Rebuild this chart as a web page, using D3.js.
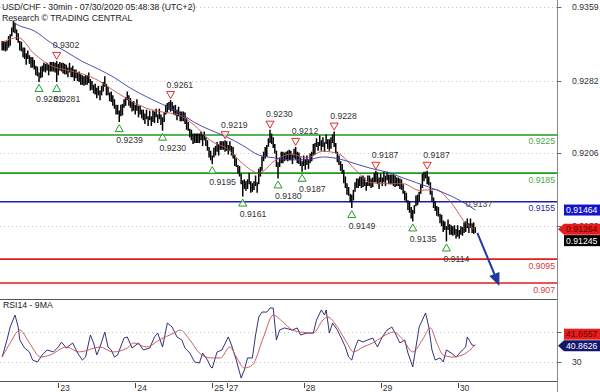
<!DOCTYPE html>
<html><head><meta charset="utf-8">
<script src="https://cdn.jsdelivr.net/npm/d3@7"></script>
<style>body{margin:0;background:#fff}svg{display:block}text{font-family:"Liberation Sans",Arial,sans-serif;font-size:8.7px}</style>
</head><body><svg id="c" width="600" height="392"></svg>
<script>
// ---------------- DATA ----------------
// 30-min bars, values in pips (price * 10000)
const highPips = [
9323,9323,9322,9323,9328,9330,9337,9344,9342,9335,
9331,9323,9322,9316,9316,9310,9313,9308,9306,9306,
9303,9297,9296,9290,9296,9297,9300,9299,9300,9298,
9301,9301,9301,9300,9302,9299,9301,9300,9300,9299,
9298,9295,9300,9295,9297,9293,9293,9290,9291,9288,
9287,9286,9287,9287,9290,9283,9281,9277,9278,9274,
9276,9271,9276,9280,9286,9278,9275,9269,9270,9266,
9262,9256,9256,9250,9256,9257,9262,9264,9270,9266,
9263,9259,9260,9256,9262,9255,9255,9251,9251,9247,
9251,9244,9250,9244,9250,9249,9252,9246,9252,9246,
9243,9248,9256,9258,9259,9261,9259,9255,9256,9251,
9254,9249,9249,9249,9248,9242,9238,9231,9230,9226,
9226,9226,9226,9226,9228,9225,9228,9222,9219,9212,
9208,9203,9211,9213,9217,9215,9218,9218,9218,9219,
9218,9214,9218,9213,9212,9204,9200,9193,9192,9184,
9177,9178,9176,9178,9185,9176,9174,9176,9182,9175,
9189,9191,9202,9207,9212,9214,9221,9230,9226,9222,
9215,9208,9196,9201,9207,9207,9206,9207,9208,9209,
9208,9204,9210,9212,9207,9206,9201,9197,9203,9199,
9203,9199,9205,9207,9215,9216,9221,9217,9224,9219,
9222,9217,9225,9220,9220,9222,9225,9228,9216,9207,
9203,9197,9194,9188,9181,9174,9170,9163,9162,9167,
9175,9179,9179,9181,9181,9182,9180,9175,9182,9182,
9179,9180,9185,9187,9185,9180,9184,9180,9186,9182,
9186,9183,9183,9183,9183,9182,9180,9180,9179,9178,
9173,9166,9164,9156,9155,9149,9146,9151,9161,9162,
9165,9173,9184,9186,9186,9187,9181,9175,9166,9159,
9155,9150,9149,9142,9141,9135,9134,9129,9136,9131,
9130,9129,9130,9126,9130,9125,9129,9128,9133,9134,
9137,9132,9137,9132,9133,9128];
const lowPips = [
9314,9314,9313,9314,9317,9319,9329,9333,9332,9325,
9322,9314,9313,9307,9305,9299,9305,9300,9296,9296,
9294,9288,9287,9281,9285,9286,9292,9291,9293,9288,
9292,9292,9292,9291,9281,9288,9293,9292,9290,9289,
9289,9286,9291,9286,9286,9282,9285,9282,9281,9278,
9278,9277,9278,9278,9280,9272,9273,9269,9268,9264,
9267,9262,9267,9271,9276,9267,9267,9261,9260,9256,
9253,9247,9247,9239,9245,9246,9254,9256,9262,9256,
9254,9250,9251,9247,9251,9244,9247,9243,9241,9237,
9242,9235,9241,9235,9239,9238,9244,9238,9242,9236,
9230,9239,9247,9249,9252,9250,9251,9247,9246,9241,
9245,9240,9240,9240,9237,9231,9230,9223,9220,9216,
9217,9217,9217,9217,9220,9214,9220,9214,9209,9202,
9199,9195,9202,9204,9208,9204,9210,9210,9210,9208,
9209,9205,9209,9204,9201,9193,9192,9185,9182,9174,
9161,9169,9167,9169,9174,9165,9166,9168,9172,9165,
9174,9182,9188,9198,9201,9203,9213,9217,9216,9212,
9206,9192,9180,9192,9196,9196,9198,9199,9198,9199,
9199,9195,9201,9200,9196,9195,9193,9187,9193,9189,
9194,9190,9196,9198,9204,9205,9213,9209,9214,9209,
9213,9208,9216,9211,9209,9211,9217,9213,9206,9197,
9194,9188,9185,9175,9170,9163,9162,9155,9149,9157,
9166,9170,9170,9172,9170,9171,9172,9167,9172,9172,
9170,9171,9176,9176,9174,9169,9176,9172,9176,9172,
9178,9174,9174,9174,9172,9171,9172,9172,9169,9168,
9164,9157,9155,9147,9144,9138,9135,9143,9151,9152,
9156,9164,9170,9177,9180,9174,9173,9163,9156,9149,
9146,9141,9140,9133,9130,9124,9126,9114,9126,9121,
9121,9120,9121,9117,9119,9117,9121,9120,9123,9124,
9128,9123,9128,9123,9122,9123];

const dayLabels = ["23","24","25","27","28","29","30"];
const dayBars   = [35, 83, 131, 140, 188, 236, 284];

const priceTicks = [0.9359, 0.9282, 0.9206, 0.9130];

const maRedBars = [0,10,20,30,40,50,60,70,80,90,100,110,120,130,140,150,160,170,180,190,200,210,220,230,240,250,260,270,280,290,295];
const maRed = [0.9322,0.9327,0.9310,0.9298,0.9293,0.9289,0.9282,0.9271,0.9261,0.9253,0.9249,0.9246,0.9235,0.9219,0.9211,0.9195,0.9185,0.9198,0.9205,0.9201,0.9208,0.9205,0.9189,0.9175,0.9174,0.9174,0.9167,0.9168,0.9154,0.9131,0.91264];
const maBlueBars = [7,10,20,30,40,50,60,70,80,90,100,110,120,130,140,150,160,170,180,190,200,210,220,230,240,250,260,270,280,290,295];
const maBlue = [0.9343,0.9340,0.9334,0.9322,0.9312,0.9302,0.9294,0.9285,0.9274,0.9265,0.9257,0.9249,0.9238,0.9230,0.9223,0.9214,0.9204,0.9201,0.9199,0.9199,0.9202,0.9200,0.9195,0.9190,0.9186,0.9180,0.9174,0.9168,0.9161,0.9152,0.91464];

const levels      = [0.9225, 0.9185, 0.9155, 0.9095, 0.907];
const levelLabels = ["0.9225","0.9185","0.9155","0.9095","0.907"];
const levelRoles  = ["resistance","resistance","pivot","support","support"];

const peakBars = [34, 105, 139, 167, 183, 207, 233, 265];
const peakVals = [0.9302, 0.9261, 0.9219, 0.9230, 0.9212, 0.9228, 0.9187, 0.9187];
const troughBars = [23, 34, 73, 100, 131, 150, 172, 187, 218, 256, 277];
const troughVals = [0.9281, 0.9281, 0.9239, 0.9230, 0.9195, 0.9161, 0.9180, 0.9187, 0.9149, 0.9135, 0.9114];
const noteBars = [289];
const noteVals = [0.9137];

const lastBar = 295, lastPrice = 0.91245, lastRed = 0.91264, lastBlue = 0.91464;
const targetBar = 310, targetPrice = 0.907;

const rsiBars = [0,3,5,8,10,11,14,17,19,22,25,28,32,35,37,40,44,47,50,52,55,57,59,61,64,66,68,70,72,76,78,81,85,88,92,95,97,100,103,106,109,112,114,117,120,123,125,128,130,131,134,137,141,143,146,149,151,153,156,158,160,162,165,167,169,171,173,176,181,184,186,190,194,196,199,201,202,204,206,209,212,214,216,218,220,222,225,228,231,234,237,240,243,245,248,251,253,256,257,260,264,266,268,270,273,275,277,280,283,287,289,290,293,295];
const rsiVals = [33.3,44.7,53.3,61.3,53.3,44.7,39.3,36.7,31.3,30,34.7,38,36.7,40,43.3,39.3,42.7,36,31.3,33.3,48,42.7,34.7,40,50,40,38,33.3,34.7,46,46.7,39.3,42.7,38,39.3,46.7,49.3,40,56,53.3,46.7,44.7,39.3,36,30,29.3,36,31.3,26.7,26,36.7,38,46.7,41.3,31.3,19.3,24.7,32.7,32.7,48,60,63.3,63.3,66,66,44.7,51.3,52.7,51.3,52.7,48,49.3,49.3,58,64.7,61.3,64.7,49.3,56,51.3,44.7,40,33.3,31.3,39.3,44.7,43.3,44.7,46,40,46.7,51.3,53.3,49.3,42.7,44.7,36,26.7,33.3,53.3,62.7,53.3,38,31.3,32.7,30,38,36,33.3,38,40,46.7,41.3,40.8626];
const rsiMaBars = [0,5,11,17,24,30,40,48,61,69,78,82,90,98,107,111,117,123,130,136,142,146,151,156,163,169,175,181,186,194,200,203,209,215,219,225,231,237,244,250,256,262,267,271,275,281,287,293,295];
const rsiMaVals = [33.3,42.7,51.3,42.7,33.3,34.7,40,36.7,40,36.7,39.3,42.7,40,44.7,49.3,51.3,44.7,36,32.7,32.7,40,33.3,26,28,46.7,61.3,56.7,51.3,50,49.3,58,60,53.3,42.7,36.7,40,42.7,46.7,50,44.7,36.7,44.7,52.7,42.7,34.7,33.3,34.7,39.3,41.6557];
const rsiTicks = [50, 30];

const title1 = "USD/CHF - 30min - 07/30/2020 05:48:38 (UTC+2)";
const title2 = "Research \u00a9 TRADING CENTRAL";
const rsiTitle = "RSI14 - 9MA";

// ---------------- DRAW ----------------
const svg = d3.select("#c");
const axisX = 557.5;
const x = d3.scaleLinear().domain([0, 295]).range([2.16, 475.3]);
const y = d3.scaleLinear().domain([0.9359, 0.907]).range([7, 283]);
const yr = d3.scaleLinear().domain([50, 30]).range([332, 362]);
const pip = p => p / 10000;
const roleColor = {resistance: "#1e9a1e", pivot: "#1c1cae", support: "#e01c1c"};
const roleText  = {resistance: "#4aa84a", pivot: "#2a2a9a", support: "#d83a3a"};
const snap = v => Math.round(v) + 0.5;

// grid
svg.append("g").selectAll("line").data(priceTicks).join("line")
  .attr("x1", 0).attr("x2", axisX).attr("y1", d => snap(y(d))).attr("y2", d => snap(y(d)))
  .attr("stroke", "#c4c4c4").attr("stroke-dasharray", "1,3");
svg.append("g").selectAll("line").data(rsiTicks).join("line")
  .attr("x1", 0).attr("x2", axisX).attr("y1", d => snap(yr(d))).attr("y2", d => snap(yr(d)))
  .attr("stroke", "#c4c4c4").attr("stroke-dasharray", "1,3");

// levels
const lv = svg.append("g");
levels.forEach((v, i) => {
  lv.append("line").attr("x1", 0).attr("x2", axisX - 0.5)
    .attr("y1", y(v)).attr("y2", y(v))
    .attr("stroke", roleColor[levelRoles[i]]).attr("stroke-width", 1.6);
  lv.append("text").attr("x", 555).attr("y", y(v) + 9.5).attr("text-anchor", "end")
    .attr("fill", roleText[levelRoles[i]]).text(levelLabels[i]);
});

// bars
svg.append("g").selectAll("line").data(highPips.map((h, i) => i)).join("line")
  .attr("x1", i => x(i)).attr("x2", i => x(i))
  .attr("y1", i => y(pip(highPips[i])) - 0.5).attr("y2", i => y(pip(lowPips[i])) + 0.5)
  .attr("stroke", "#000").attr("stroke-width", 1.5);

// moving averages
const lineMA = d3.line().curve(d3.curveMonotoneX);
svg.append("path").attr("d", lineMA(maRedBars.map((b, i) => [x(b), y(maRed[i])])))
  .attr("fill", "none").attr("stroke", "#c0504d").attr("stroke-width", 0.9);
svg.append("path").attr("d", lineMA(maBlueBars.map((b, i) => [x(b), y(maBlue[i])])))
  .attr("fill", "none").attr("stroke", "#3a3aa8").attr("stroke-width", 0.9);

// peaks / troughs
const ann = svg.append("g");
peakBars.forEach((b, i) => {
  const cx = x(b), cy = y(peakVals[i]) - 6;
  ann.append("path").attr("d", `M${cx-4},${cy-3}L${cx+4},${cy-3}L${cx},${cy+4}Z`)
    .attr("fill", "#fff").attr("fill-opacity", 0.6).attr("stroke", "#d83030").attr("stroke-width", 1);
  ann.append("text").attr("x", cx - 4).attr("y", y(peakVals[i]) - 13).attr("fill", "#333")
    .text(peakVals[i].toFixed(4));
});
troughBars.forEach((b, i) => {
  const cx = x(b), cy = y(troughVals[i]) + 7;
  ann.append("path").attr("d", `M${cx-4},${cy+3}L${cx+4},${cy+3}L${cx},${cy-4}Z`)
    .attr("fill", "#fff").attr("fill-opacity", 0.6).attr("stroke", "#2a9a2a").attr("stroke-width", 1);
  ann.append("text").attr("x", cx - 3).attr("y", y(troughVals[i]) + 21).attr("fill", "#333")
    .text(troughVals[i].toFixed(4));
});
noteBars.forEach((b, i) => {
  ann.append("text").attr("x", x(b)).attr("y", y(noteVals[i]) - 12).attr("fill", "#444")
    .text(noteVals[i].toFixed(4));
});

// projection arrow
{
  const x1 = x(lastBar) + 2, y1 = y(lastPrice) + 2;
  const x2 = x(targetBar), y2 = y(targetPrice) + 3;
  const dx = x2 - x1, dy = y2 - y1, L = Math.hypot(dx, dy), ux = dx / L, uy = dy / L;
  const hl = 13, hw = 5.5;
  const bx = x2 - ux * hl, by = y2 - uy * hl;
  svg.append("line").attr("x1", x1).attr("y1", y1).attr("x2", bx).attr("y2", by)
    .attr("stroke", "#1f3b9c").attr("stroke-width", 2);
  svg.append("path").attr("d", `M${x2},${y2}L${bx - uy*hw},${by + ux*hw}L${bx + uy*hw},${by - ux*hw}Z`)
    .attr("fill", "#1f3b9c");
}

// RSI panel
svg.append("line").attr("x1", 0).attr("x2", axisX).attr("y1", 299.5).attr("y2", 299.5).attr("stroke", "#555");
svg.append("line").attr("x1", 0).attr("x2", axisX).attr("y1", 381.5).attr("y2", 381.5).attr("stroke", "#555");
svg.append("text").attr("x", 3).attr("y", 308).attr("fill", "#222").text(rsiTitle);
svg.append("path").attr("d", d3.line()(rsiBars.map((b, i) => [x(b), yr(rsiVals[i])])))
  .attr("fill", "none").attr("stroke", "#1c1c6a").attr("stroke-width", 0.9);
svg.append("path").attr("d", lineMA(rsiMaBars.map((b, i) => [x(b), yr(rsiMaVals[i])])))
  .attr("fill", "none").attr("stroke", "#c0504d").attr("stroke-width", 0.9);

// right axis
svg.append("line").attr("x1", axisX).attr("x2", axisX).attr("y1", 0).attr("y2", 392).attr("stroke", "#888");
const ra = svg.append("g");
priceTicks.forEach(v => {
  ra.append("line").attr("x1", axisX).attr("x2", axisX + 4).attr("y1", snap(y(v))).attr("y2", snap(y(v))).attr("stroke", "#666");
  ra.append("text").attr("x", 572).attr("y", y(v) + 3).attr("fill", "#333").text(v.toFixed(4));
});
rsiTicks.forEach(v => {
  ra.append("line").attr("x1", axisX).attr("x2", axisX + 4).attr("y1", snap(yr(v))).attr("y2", snap(yr(v))).attr("stroke", "#666");
  ra.append("text").attr("x", 572).attr("y", yr(v) + 3).attr("fill", "#333").text(String(v));
});

// value boxes
function box(yc, txt, fill, tcol, arrow) {
  const h = 5.5;
  if (arrow) ra.append("path").attr("d", `M558,${yc}L564,${yc-h}L600,${yc-h}L600,${yc+h}L564,${yc+h}Z`).attr("fill", fill);
  else ra.append("rect").attr("x", 564).attr("y", yc - h).attr("width", 36).attr("height", 2*h).attr("fill", fill);
  ra.append("text").attr("x", 566).attr("y", yc + 3.2).attr("fill", tcol).text(txt);
}
const yBlue = y(lastBlue), yRed = y(lastRed);
box(yBlue, lastBlue.toFixed(5), "#1414c8", "#fff", false);
box(yRed, lastRed.toFixed(5), "#e41e1e", "#6a0000", true);
box(Math.max(y(lastPrice), yRed + 11.5), lastPrice.toFixed(5), "#000", "#fff", false);
const rsiLast = rsiVals[rsiVals.length - 1], rsiMaLast = rsiMaVals[rsiMaVals.length - 1];
box(Math.min(yr(rsiMaLast), yr(rsiLast) - 11.5), rsiMaLast.toFixed(4), "#e41e1e", "#6a0000", false);
box(yr(rsiLast), rsiLast.toFixed(4), "#16166e", "#fff", true);

// bottom axis
const ba = svg.append("g");
dayBars.forEach((b, i) => {
  ba.append("line").attr("x1", snap(x(b))).attr("x2", snap(x(b))).attr("y1", 383).attr("y2", 388).attr("stroke", "#444");
  ba.append("text").attr("x", x(b) + 2).attr("y", 391).attr("fill", "#333").text(dayLabels[i]);
});

// titles
svg.append("text").attr("x", 2).attr("y", 10).attr("fill", "#222").text(title1);
svg.append("text").attr("x", 2).attr("y", 20.5).attr("fill", "#222").text(title2);
</script></body></html>
